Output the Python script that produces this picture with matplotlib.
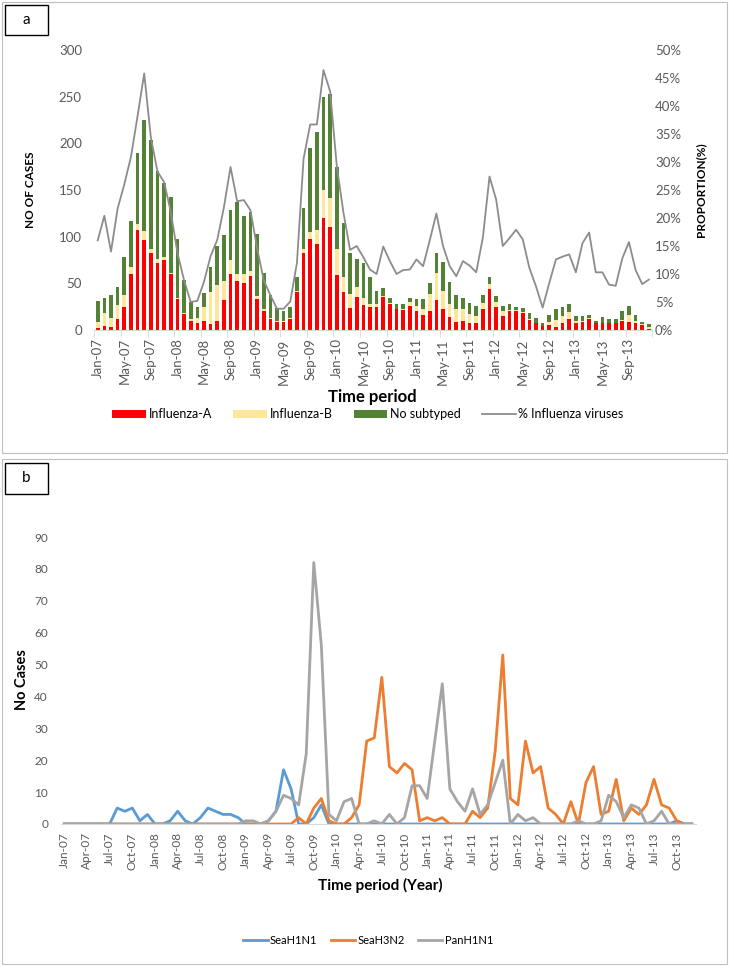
import numpy as np
import matplotlib
matplotlib.use("Agg")
from matplotlib import pyplot as plt
from matplotlib.patches import Rectangle

plt.rcParams['font.family'] = ['Lato', 'DejaVu Sans']

W, H = 729, 966

# ---- panel a data (monthly, Jan-07 .. Dec-13) ----
flu_a = [2, 4, 3, 12, 25, 60, 107, 96, 82, 72, 75, 60,
         33, 17, 10, 8, 10, 6, 10, 32, 60, 52, 50, 58,
         33, 20, 12, 9, 9, 12, 41, 82, 98, 92, 120, 110,
         59, 41, 24, 35, 27, 25, 25, 35, 28, 22, 21, 26,
         20, 16, 20, 32, 22, 14, 9, 10, 7, 8, 23, 44,
         25, 15, 20, 20, 18, 11, 7, 4, 5, 3, 8, 12,
         8, 9, 12, 7, 7, 7, 7, 10, 9, 8, 5, 1]
flu_b = [7, 14, 10, 15, 13, 7, 7, 10, 5, 4, 3, 1,
         1, 1, 2, 5, 15, 35, 38, 20, 15, 8, 10, 5,
         3, 2, 1, 1, 1, 1, 1, 5, 7, 15, 30, 31,
         28, 16, 15, 11, 7, 3, 3, 1, 1, 1, 2, 4,
         6, 7, 19, 29, 20, 14, 13, 12, 10, 7, 6, 5,
         5, 5, 1, 1, 1, 1, 1, 0, 4, 8, 7, 7,
         2, 1, 1, 0, 1, 0, 0, 1, 7, 2, 1, 2]
no_sub = [22, 16, 25, 19, 40, 50, 76, 119, 117, 94, 80, 81,
          64, 36, 18, 12, 15, 27, 42, 50, 54, 77, 62, 63,
          67, 39, 24, 14, 10, 12, 15, 44, 90, 105, 100, 112,
          88, 58, 43, 30, 38, 29, 14, 9, 5, 5, 5, 4,
          7, 10, 11, 21, 31, 23, 15, 12, 12, 11, 9, 8,
          6, 6, 7, 4, 5, 6, 5, 3, 7, 11, 10, 9,
          5, 5, 3, 3, 6, 5, 5, 9, 10, 6, 3, 3]
pct_flu = [16.0, 20.4, 14.0, 21.7, 26.0, 30.9, 38.2, 45.8, 34.4, 28.3, 26.4, 21.1,
           13.8, 8.9, 5.0, 5.2, 8.6, 13.2, 16.1, 21.9, 29.1, 23.0, 23.2, 21.4,
           14.6, 8.9, 6.2, 3.8, 3.8, 5.1, 12.0, 30.6, 36.7, 36.7, 46.4, 42.6,
           29.3, 21.0, 14.3, 15.0, 13.0, 10.8, 10.0, 14.9, 12.3, 10.0, 10.7, 10.8,
           12.6, 11.4, 16.0, 20.8, 15.0, 11.4, 9.6, 12.3, 11.5, 10.3, 16.5, 27.4,
           23.3, 15.0, 16.4, 17.9, 16.2, 11.1, 7.8, 4.0, 8.4, 12.6, 13.1, 13.5,
           10.3, 15.5, 17.4, 10.3, 10.3, 8.1, 7.9, 12.8, 15.7, 10.7, 8.2, 9.0]

months = ['Jan', 'Feb', 'Mar', 'Apr', 'May', 'Jun',
          'Jul', 'Aug', 'Sep', 'Oct', 'Nov', 'Dec']
labels = [f"{m}-{y:02d}" for y in range(7, 14) for m in months]

# ---- panel b data ----
sea_h1n1 = [0, 0, 0, 0, 0, 0, 0, 5, 4, 5, 1, 3,
            0, 0, 1, 4, 1, 0, 2, 5, 4, 3, 3, 2,
            0, 0, 0, 1, 4, 17, 11, 0, 0, 2, 6, 0,
            0, 0, 0, 0, 0, 0, 0, 0, 0, 0, 0, 0,
            0, 0, 0, 0, 0, 0, 0, 0, 0, 0, 0, 0,
            0, 0, 0, 0, 0, 0, 0, 0, 0, 0, 0, 0,
            0, 0, 0, 0, 0, 0, 0, 0, 0, 1, 0, 0]
sea_h3n2 = [0, 0, 0, 0, 0, 0, 0, 0, 0, 0, 0, 0,
            0, 0, 0, 0, 0, 0, 0, 0, 0, 0, 0, 0,
            0, 0, 0, 0, 0, 0, 0, 2, 0, 5, 8, 1,
            0, 0, 2, 6, 26, 27, 46, 18, 16, 19, 17, 1,
            2, 1, 2, 0, 0, 0, 4, 2, 5, 23, 53, 8,
            6, 26, 16, 18, 5, 3, 0, 7, 0, 13, 18, 3,
            4, 14, 1, 5, 3, 6, 14, 6, 5, 1, 0, 0]
pan_h1n1 = [0, 0, 0, 0, 0, 0, 0, 0, 0, 0, 0, 0,
            0, 0, 0, 0, 0, 0, 0, 0, 0, 0, 0, 0,
            1, 1, 0, 1, 4, 9, 8, 6, 22, 82, 56, 3,
            1, 7, 8, 0, 0, 1, 0, 3, 0, 2, 12, 12,
            8, 26, 44, 11, 7, 4, 11, 3, 6, 13, 20, 0,
            3, 1, 2, 0, 0, 0, 0, 0, 1, 0, 0, 1,
            9, 7, 2, 6, 5, 0, 1, 4, 0, 0, 0, 0]


def px(x0, y0, x1, y1):
    return [x0 / W, 1 - y1 / H, (x1 - x0) / W, (y1 - y0) / H]


def frame(x0, y0, x1, y1, col, lw):
    fig.patches.append(Rectangle((x0 / W, 1 - y1 / H), (x1 - x0) / W, (y1 - y0) / H,
                                 transform=fig.transFigure, fill=False, edgecolor=col, lw=lw))


grey_txt = '#595959'
axis_col = '#D9D9D9'

fig = plt.figure(figsize=(W / 100, H / 100), dpi=100)

# panel frames and letters
frame(2, 2, 727, 453, '#BFBFBF', 0.8)
frame(2, 459, 727, 964, '#BFBFBF', 0.8)
frame(5, 5, 48, 35, 'black', 1)
frame(5, 463, 48, 494, 'black', 1)
fig.text(26 / W, 1 - 20 / H, 'a', ha='center', va='center', fontsize=11)
fig.text(26 / W, 1 - 478 / H, 'b', ha='center', va='center', fontsize=11)

# ---------------- panel a ----------------
x = np.arange(len(flu_a))
a = np.array(flu_a)
b = np.array(flu_b)
n = np.array(no_sub)

ax1 = fig.add_axes(px(94.4, 50, 652.2, 330))
bw = 0.55
ax1.bar(x, a, bw, color='#FF0000', label='Influenza-A')
ax1.bar(x, b, bw, bottom=a, color='#FFE699', label='Influenza-B')
ax1.bar(x, n, bw, bottom=a + b, color='#548235', label='No subtyped')
ax1.set_xlim(-0.5, len(x) - 0.5)
ax1.set_ylim(0, 300)
ax1.set_yticks(range(0, 301, 50))
ax1.set_xticks(x[::4])
ax1.set_xticklabels(labels[::4], rotation=90)
ax1.set_xticks(np.arange(-0.5, len(x), 4), minor=True)
ax1.tick_params(axis='x', which='major', length=0, pad=6, labelsize=9.5, labelcolor=grey_txt)
ax1.tick_params(axis='x', which='minor', length=5, color=axis_col)
ax1.tick_params(axis='y', length=0, pad=9, labelsize=9.5, labelcolor=grey_txt)
for s in ['top', 'left', 'right']:
    ax1.spines[s].set_visible(False)
ax1.spines['bottom'].set_color(axis_col)

ax2 = ax1.twinx()
ax2.plot(x, np.array(pct_flu) / 100, color='#8C8C8C', lw=1.3, label='% Influenza viruses')
ax2.set_ylim(0, 0.5)
ax2.set_yticks(np.arange(0, 0.501, 0.05))
ax2.set_yticklabels([f"{int(round(v * 100))}%" for v in np.arange(0, 0.501, 0.05)])
ax2.tick_params(axis='y', length=0, pad=2, labelsize=9.5, labelcolor=grey_txt)
for s in ['top', 'left', 'right', 'bottom']:
    ax2.spines[s].set_visible(False)

fig.text(30 / W, 1 - 190 / H, 'NO OF CASES', rotation=90, ha='center', va='center',
         fontsize=8.5, fontweight='bold')
fig.text(701 / W, 1 - 190 / H, 'PROPORTION(%)', rotation=90, ha='center', va='center',
         fontsize=8.5, fontweight='bold')
fig.text(372 / W, 1 - 397 / H, 'Time period', ha='center', va='center',
         fontsize=12, fontweight='bold')

h1, l1 = ax1.get_legend_handles_labels()
h2, l2 = ax2.get_legend_handles_labels()
fig.legend(h1 + h2, l1 + l2, loc='center', bbox_to_anchor=(368 / W, 1 - 414 / H), ncol=4,
           frameon=False, fontsize=9, handlelength=2.7, handleheight=0.6,
           handletextpad=0.2, columnspacing=1.7, borderpad=0)

# ---------------- panel b ----------------
ax3 = fig.add_axes(px(60.5, 537, 695.6, 824))
ax3.plot(x, sea_h1n1, color='#5B9BD5', lw=2, label='SeaH1N1')
ax3.plot(x, sea_h3n2, color='#ED7D31', lw=2, label='SeaH3N2')
ax3.plot(x, pan_h1n1, color='#A5A5A5', lw=2, label='PanH1N1')
ax3.set_xlim(-0.5, len(x) - 0.5)
ax3.set_ylim(0, 90)
ax3.set_yticks(range(0, 91, 10))
ax3.set_xticks(x[::3])
ax3.set_xticklabels(labels[::3], rotation=90)
ax3.tick_params(axis='x', length=0, pad=6, labelsize=8.5, labelcolor=grey_txt)
ax3.tick_params(axis='y', length=0, pad=9, labelsize=8.5, labelcolor=grey_txt)
for s in ['top', 'left', 'right']:
    ax3.spines[s].set_visible(False)
ax3.spines['bottom'].set_color(axis_col)

fig.text(22 / W, 1 - 680 / H, 'No Cases', rotation=90, ha='center', va='center',
         fontsize=10.5, fontweight='bold')
fig.text(380 / W, 1 - 885 / H, 'Time period (Year)', ha='center', va='center',
         fontsize=11, fontweight='bold')
fig.legend(*ax3.get_legend_handles_labels(), loc='center', bbox_to_anchor=(368 / W, 1 - 940 / H),
           ncol=3, frameon=False, fontsize=8, handlelength=2.2, handletextpad=0.2,
           columnspacing=1.2, borderpad=0)

fig.savefig('out.png', dpi=100)
